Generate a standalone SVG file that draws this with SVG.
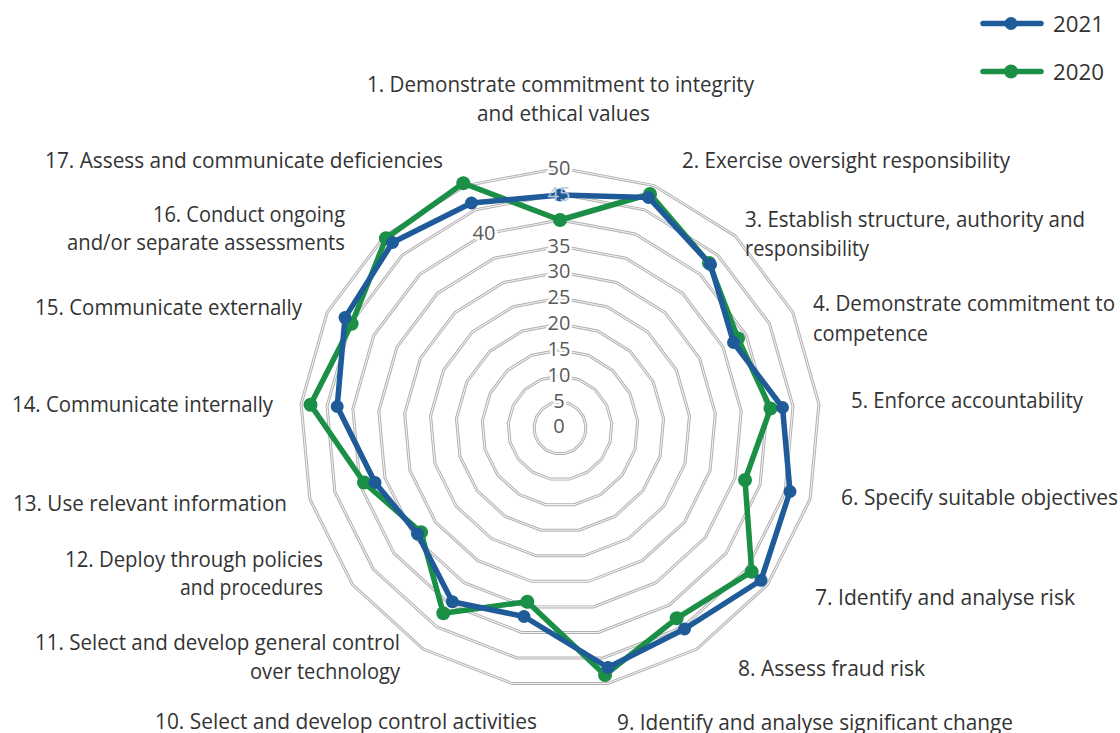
<svg xmlns="http://www.w3.org/2000/svg" xmlns:xlink="http://www.w3.org/1999/xlink" width="1120" height="733" viewBox="0 0 1120 733">
<style>
  .ring { fill: none; vector-effect: non-scaling-stroke; }
  .ringOuter { stroke: #b0b0b0; stroke-width: 3; }
  .ringInner { stroke: #f2f2f2; stroke-width: 1.1; }
  .tick { font-family: "Open Sans", "Liberation Sans", sans-serif; font-size: 20px; fill: #5a5a5a; text-anchor: middle; stroke: #ffffff; stroke-width: 5px; stroke-linejoin: round; paint-order: stroke; }
  .tickOver { font-family: "Open Sans", "Liberation Sans", sans-serif; font-size: 20px; fill: #b9c7d8; text-anchor: middle; }
  .lbl { font-family: "Open Sans", "Liberation Sans", sans-serif; font-size: 21px; fill: #333333; }
  .s2021 { fill: none; stroke: #1f5b98; stroke-width: 5.5; stroke-linejoin: round; }
  .s2020 { fill: none; stroke: #1a8f45; stroke-width: 5.5; stroke-linejoin: round; }
  .m2021 { fill: #1f5b98; }
  .m2020 { fill: #1a8f45; }
  .leg { font-family: "Open Sans", "Liberation Sans", sans-serif; font-size: 21px; fill: #333333; }
</style>
<defs>
  <polygon id="unit" class="ring" points="0,-100 36.124,-93.247 67.370,-73.901 89.516,-44.574 99.573,-9.227 96.183,27.366 79.802,60.263 52.643,85.022 18.375,98.297 -18.375,98.297 -52.643,85.022 -79.802,60.263 -96.183,27.366 -99.573,-9.227 -89.516,-44.574 -67.370,-73.901 -36.124,-93.247"/>
  <g id="rings">
    <use xlink:href="#unit" transform="translate(560,428) scale(0.26)"/>
    <use xlink:href="#unit" transform="translate(560,428) scale(0.52)"/>
    <use xlink:href="#unit" transform="translate(560,428) scale(0.78)"/>
    <use xlink:href="#unit" transform="translate(560,428) scale(1.04)"/>
    <use xlink:href="#unit" transform="translate(560,428) scale(1.30)"/>
    <use xlink:href="#unit" transform="translate(560,428) scale(1.56)"/>
    <use xlink:href="#unit" transform="translate(560,428) scale(1.82)"/>
    <use xlink:href="#unit" transform="translate(560,428) scale(2.08)"/>
    <use xlink:href="#unit" transform="translate(560,428) scale(2.34)"/>
    <use xlink:href="#unit" transform="translate(560,428) scale(2.60)"/>
  </g>
</defs>
<rect x="0" y="0" width="1120" height="733" fill="#ffffff"/>

<g id="grid">
  <use xlink:href="#rings" class="ringOuter"/>
  <use xlink:href="#rings" class="ringInner"/>
</g>

<g id="tick-labels">
  <text class="tick" x="559" y="433">0</text>
  <text class="tick" x="559" y="408">5</text>
  <text class="tick" x="559" y="382">10</text>
  <text class="tick" x="559" y="356">15</text>
  <text class="tick" x="559" y="330">20</text>
  <text class="tick" x="559" y="304">25</text>
  <text class="tick" x="559" y="278">30</text>
  <text class="tick" x="559" y="253">35</text>
  <text class="tick" x="484" y="240">40</text>
  <text class="tick" x="559" y="175">50</text>
</g>

<g id="series-2020">
  <polygon class="s2020" points="560,220 650,194 709,263 738,338.5 770.5,408.5 745,480 751.7,571.7 676.7,618.3 605,675 527.3,601.7 443.3,613.3 421,532.3 364,482.5 310.5,404.7 351.7,323.7 386,238.3 463.3,183.3"/>
  <g class="m2020">
    <circle cx="560" cy="220" r="7"/>
    <circle cx="650" cy="194" r="7"/>
    <circle cx="709" cy="263" r="7"/>
    <circle cx="738" cy="338.5" r="7"/>
    <circle cx="770.5" cy="408.5" r="7"/>
    <circle cx="745" cy="480" r="7"/>
    <circle cx="751.7" cy="571.7" r="7"/>
    <circle cx="676.7" cy="618.3" r="7"/>
    <circle cx="605" cy="675" r="7"/>
    <circle cx="527.3" cy="601.7" r="7"/>
    <circle cx="443.3" cy="613.3" r="7"/>
    <circle cx="421" cy="532.3" r="7"/>
    <circle cx="364" cy="482.5" r="7"/>
    <circle cx="310.5" cy="404.7" r="7"/>
    <circle cx="351.7" cy="323.7" r="7"/>
    <circle cx="386" cy="238.3" r="7"/>
    <circle cx="463.3" cy="183.3" r="7"/>
  </g>
</g>

<g id="series-2021">
  <polygon class="s2021" points="560,195 648.5,197.5 710.5,264.5 733.5,342.5 782.5,407.5 790,491.5 761,580.3 684.5,629 608,667.5 524,616.5 452.3,601.7 417.5,534 375,482.5 337.2,406.5 345,317.6 392.5,242.5 471.5,203"/>
  <g class="m2021">
    <circle cx="560" cy="195" r="6.5"/>
    <circle cx="648.5" cy="197.5" r="6.5"/>
    <circle cx="710.5" cy="264.5" r="6.5"/>
    <circle cx="733.5" cy="342.5" r="6.5"/>
    <circle cx="782.5" cy="407.5" r="6.5"/>
    <circle cx="790" cy="491.5" r="6.5"/>
    <circle cx="761" cy="580.3" r="6.5"/>
    <circle cx="684.5" cy="629" r="6.5"/>
    <circle cx="608" cy="667.5" r="6.5"/>
    <circle cx="524" cy="616.5" r="6.5"/>
    <circle cx="452.3" cy="601.7" r="6.5"/>
    <circle cx="417.5" cy="534" r="6.5"/>
    <circle cx="375" cy="482.5" r="6.5"/>
    <circle cx="337.2" cy="406.5" r="6.5"/>
    <circle cx="345" cy="317.6" r="6.5"/>
    <circle cx="392.5" cy="242.5" r="6.5"/>
    <circle cx="471.5" cy="203" r="6.5"/>
  </g>
</g>

<g id="tick-label-45">
  <text class="tickOver" x="559" y="201">45</text>
</g>

<g id="axis-1"><text class="lbl" x="367" y="92" textLength="387" lengthAdjust="spacingAndGlyphs">1. Demonstrate commitment to integrity</text><text class="lbl" x="477" y="121" textLength="173" lengthAdjust="spacingAndGlyphs">and ethical values</text></g>
<g id="axis-2"><text class="lbl" x="682" y="168" textLength="328" lengthAdjust="spacingAndGlyphs">2. Exercise oversight responsibility</text></g>
<g id="axis-3"><text class="lbl" x="745" y="227" textLength="340" lengthAdjust="spacingAndGlyphs">3. Establish structure, authority and</text><text class="lbl" x="745" y="256" textLength="124" lengthAdjust="spacingAndGlyphs">responsibility</text></g>
<g id="axis-4"><text class="lbl" x="813" y="311" textLength="302" lengthAdjust="spacingAndGlyphs">4. Demonstrate commitment to</text><text class="lbl" x="813" y="341" textLength="115" lengthAdjust="spacingAndGlyphs">competence</text></g>
<g id="axis-5"><text class="lbl" x="851" y="408" textLength="232" lengthAdjust="spacingAndGlyphs">5. Enforce accountability</text></g>
<g id="axis-6"><text class="lbl" x="841" y="505" textLength="277" lengthAdjust="spacingAndGlyphs">6. Specify suitable objectives</text></g>
<g id="axis-7"><text class="lbl" x="815" y="605" textLength="260" lengthAdjust="spacingAndGlyphs">7. Identify and analyse risk</text></g>
<g id="axis-8"><text class="lbl" x="738" y="676" textLength="187" lengthAdjust="spacingAndGlyphs">8. Assess fraud risk</text></g>
<g id="axis-9"><text class="lbl" x="617" y="730" textLength="396" lengthAdjust="spacingAndGlyphs">9. Identify and analyse significant change</text></g>
<g id="axis-10"><text class="lbl" x="155" y="729" textLength="382" lengthAdjust="spacingAndGlyphs">10. Select and develop control activities</text></g>
<g id="axis-11"><text class="lbl" x="35" y="650" textLength="365" lengthAdjust="spacingAndGlyphs">11. Select and develop general control</text><text class="lbl" x="250" y="679" textLength="150" lengthAdjust="spacingAndGlyphs">over technology</text></g>
<g id="axis-12"><text class="lbl" x="65" y="567" textLength="258" lengthAdjust="spacingAndGlyphs">12. Deploy through policies</text><text class="lbl" x="180" y="595" textLength="143" lengthAdjust="spacingAndGlyphs">and procedures</text></g>
<g id="axis-13"><text class="lbl" x="13" y="511" textLength="274" lengthAdjust="spacingAndGlyphs">13. Use relevant information</text></g>
<g id="axis-14"><text class="lbl" x="12" y="412" textLength="261" lengthAdjust="spacingAndGlyphs">14. Communicate internally</text></g>
<g id="axis-15"><text class="lbl" x="35" y="315" textLength="267" lengthAdjust="spacingAndGlyphs">15. Communicate externally</text></g>
<g id="axis-16"><text class="lbl" x="153" y="222" textLength="192" lengthAdjust="spacingAndGlyphs">16. Conduct ongoing</text><text class="lbl" x="67" y="250" textLength="278" lengthAdjust="spacingAndGlyphs">and/or separate assessments</text></g>
<g id="axis-17"><text class="lbl" x="45" y="168" textLength="398" lengthAdjust="spacingAndGlyphs">17. Assess and communicate deficiencies</text></g>

<g id="legend">
  <g id="legend-2021">
    <line x1="983" y1="23.5" x2="1041" y2="23.5" stroke="#1f5b98" stroke-width="5.5" stroke-linecap="round"/>
    <circle cx="1011" cy="23.5" r="6.5" fill="#1f5b98"/>
    <text class="leg" x="1053" y="32" textLength="51" lengthAdjust="spacingAndGlyphs">2021</text>
  </g>
  <g id="legend-2020">
    <line x1="983" y1="71.5" x2="1041" y2="71.5" stroke="#1a8f45" stroke-width="5.5" stroke-linecap="round"/>
    <circle cx="1011" cy="71.5" r="7" fill="#1a8f45"/>
    <text class="leg" x="1053" y="80" textLength="51" lengthAdjust="spacingAndGlyphs">2020</text>
  </g>
</g>
</svg>
